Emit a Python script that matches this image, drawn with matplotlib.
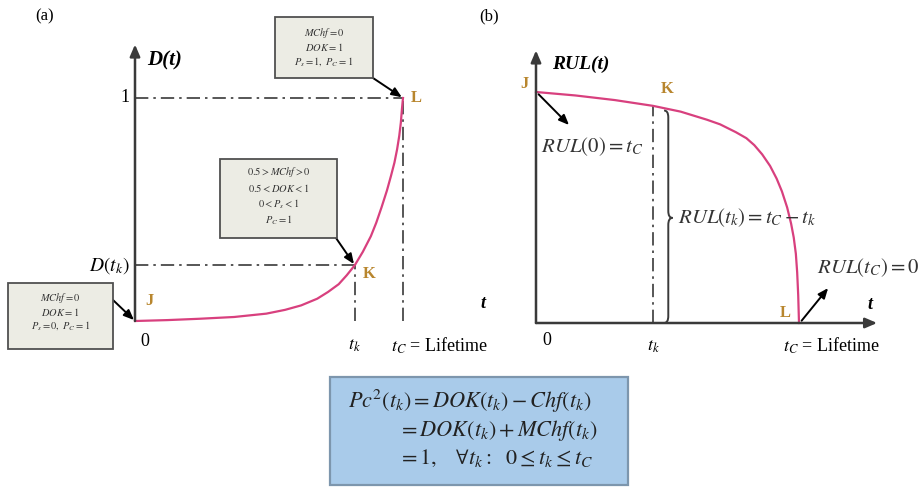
import numpy as np
import matplotlib
matplotlib.use('Agg')
import matplotlib.pyplot as plt
from matplotlib.patches import Rectangle, PathPatch
from matplotlib.path import Path

plt.rcParams['mathtext.fontset'] = 'stix'
plt.rcParams['font.family'] = ['Liberation Serif', 'DejaVu Serif']

# (a) degradation D(t), time normalised so that t_C = 1
d_t = [0, 0.12, 0.24, 0.37, 0.49, 0.56, 0.62, 0.68, 0.72, 0.76, 0.79, 0.82, 0.85, 0.88,
       0.90, 0.92, 0.94, 0.955, 0.968, 0.978, 0.986, 0.992, 0.996, 1.0]
d_val = [0, 0.004, 0.01, 0.018, 0.033, 0.05, 0.07, 0.10, 0.13, 0.165, 0.205, 0.25, 0.31, 0.38,
         0.44, 0.51, 0.585, 0.65, 0.71, 0.77, 0.83, 0.89, 0.95, 1.0]
tk_a = 0.82
d_tk = 0.25

# (b) remaining useful life RUL(t), normalised
rul_t = [0, 0.15, 0.30, 0.445, 0.55, 0.65, 0.70, 0.76, 0.80, 0.83, 0.86, 0.89, 0.915, 0.935,
         0.955, 0.97, 0.98, 0.988, 0.993, 0.997, 1.0]
rul_val = [1.0, 0.985, 0.965, 0.94, 0.915, 0.88, 0.86, 0.826, 0.80, 0.77, 0.73, 0.68, 0.625,
           0.57, 0.50, 0.43, 0.37, 0.30, 0.22, 0.12, 0.0]
tk_b = 0.445
rul_tk = 0.94

box_j = [r'$MChf = 0$', r'$DOK = 1$', r'$P_s = 0,\ P_C = 1$']
box_k = [r'$0.5 > MChf > 0$', r'$0.5 < DOK < 1$', r'$0 < P_s < 1$', r'$P_C = 1$']
box_l = [r'$MChf = 0$', r'$DOK = 1$', r'$P_s = 1,\ P_C = 1$']

W, H = 921, 494
curve_c = '#d8407e'
point_c = '#b8862e'
axis_c = '#3a3a3a'
dashdot = (0, (8, 3, 1.5, 3))

fig = plt.figure(figsize=(W / 100, H / 100), dpi=100)


def fx(x, y):
    # pixel position -> figure fraction
    return (x / W, 1 - y / H)


# axes placed so that the origins sit where the drawing needs them
ax_a = fig.add_axes([0, 124 / H, 460 / W, 370 / H])
ax_a.set_xlim(-135 / 268, 325 / 268)
ax_a.set_ylim(-49 / 223, 321 / 223)
ax_b = fig.add_axes([460 / W, 124 / H, 461 / W, 370 / H])
ax_b.set_xlim(-76 / 263, 385 / 263)
ax_b.set_ylim(-47 / 231, 323 / 231)
for ax in (ax_a, ax_b):
    ax.axis('off')

arrow_axis = dict(arrowstyle='-|>,head_length=0.7,head_width=0.3', color=axis_c, lw=1.8,
                  shrinkA=0, shrinkB=0)

# ---- panel (a) ----
ax_a.annotate('', xy=(0, 1.24), xytext=(0, 0), arrowprops=arrow_axis)
ax_a.annotate('', xy=(1.325, 0), xytext=(0, 0), arrowprops=arrow_axis)
ax_a.plot([0, 1], [1, 1], color=axis_c, lw=1.2, ls=dashdot)
ax_a.plot([1, 1], [0, 1], color=axis_c, lw=1.2, ls=dashdot)
ax_a.plot([0, tk_a], [d_tk, d_tk], color=axis_c, lw=1.2, ls=dashdot)
ax_a.plot([tk_a, tk_a], [0, d_tk], color=axis_c, lw=1.2, ls=dashdot)
ax_a.plot(d_t, d_val, color=curve_c, lw=1.6, solid_joinstyle='round')

ax_a.text(0.04, 0.07, 'J', color=point_c, fontsize=12, fontweight='bold')
ax_a.text(tk_a + 0.03, d_tk - 0.04, 'K', color=point_c, fontsize=12, fontweight='bold', va='center')
ax_a.text(1.03, 1.0, 'L', color=point_c, fontsize=12, fontweight='bold', va='center')

ax_a.text(-0.02, 1, '1', fontsize=13, ha='right', va='center')
ax_a.text(-0.02, d_tk, r'$D(t_k)$', fontsize=14, ha='right', va='center')
ax_a.text(0.02, -0.09, '0', fontsize=13, ha='left', va='center')
ax_a.text(tk_a, -0.11, r'$t_k$', fontsize=13, ha='center', va='center')
ax_a.text(0.955, -0.11, r'$t_C$ = Lifetime', fontsize=13, ha='left', va='center')
ax_a.text(1.30, 0.08, 't', fontsize=13, style='italic', fontweight='bold', ha='center', va='center')
ax_a.text(0.045, 1.17, 'D(t)', fontsize=15, style='italic', fontweight='bold', ha='left', va='center')

fig.text(*fx(45, 16), '(a)', fontsize=12, ha='center', va='center')

box_fill = '#ecece4'
box_edge = '#505050'
arrow_box = dict(arrowstyle='-|>,head_length=0.6,head_width=0.25', color='black', lw=1.4,
                 shrinkA=0, shrinkB=1)


def note_box(x0, y0, x1, y1, lines, line_y, target, start, ax):
    fig.patches.append(Rectangle(fx(x0, y1), (x1 - x0) / W, (y1 - y0) / H,
                                 transform=fig.transFigure, facecolor=box_fill,
                                 edgecolor=box_edge, lw=1.3))
    for s, y in zip(lines, line_y):
        fig.text(*fx((x0 + x1) / 2, y), s, fontsize=7.5, ha='center', va='center', color='#333333')
    ax.annotate('', xy=target, xycoords='data', xytext=fx(*start),
                textcoords='figure fraction', arrowprops=arrow_box)


note_box(275, 17, 373, 78, box_l, [33, 47, 61], (d_t[-1], d_val[-1]), (373, 78), ax_a)
note_box(220, 159, 337, 238, box_k, [172, 188, 204, 220], (tk_a, d_tk), (336, 238), ax_a)
note_box(8, 283, 113, 349, box_j, [298, 312, 326], (d_t[0], d_val[0]), (113, 300), ax_a)

# ---- panel (b) ----
ax_b.annotate('', xy=(0, 1.18), xytext=(0, 0), arrowprops=arrow_axis)
ax_b.annotate('', xy=(1.297, 0), xytext=(0, 0), arrowprops=arrow_axis)
ax_b.plot([tk_b, tk_b], [0, rul_tk], color=axis_c, lw=1.2, ls=dashdot)
ax_b.plot(rul_t, rul_val, color=curve_c, lw=1.6, solid_joinstyle='round')

ax_b.text(-0.03, 1.0, 'J', color=point_c, fontsize=12, fontweight='bold', ha='right', va='bottom')
ax_b.text(tk_b + 0.03, rul_tk + 0.04, 'K', color=point_c, fontsize=12, fontweight='bold', va='bottom')
ax_b.text(0.97, 0.01, 'L', color=point_c, fontsize=12, fontweight='bold', ha='right', va='bottom')

ax_b.text(0.025, -0.075, '0', fontsize=13, ha='left', va='center')
ax_b.text(tk_b, -0.10, r'$t_k$', fontsize=13, ha='center', va='center')
ax_b.text(0.94, -0.10, r'$t_C$ = Lifetime', fontsize=13, ha='left', va='center')
ax_b.text(1.27, 0.08, 't', fontsize=13, style='italic', fontweight='bold', ha='center', va='center')
ax_b.text(0.06, 1.12, 'RUL(t)', fontsize=14, style='italic', fontweight='bold', ha='left', va='center')

fig.text(*fx(489, 16), '(b)', fontsize=12, ha='center', va='center')

# curly brace spanning RUL(t_k)
bx, bw, bd = 0.487, 0.016, 0.03
b_top, b_mid = rul_tk - 0.02, 0.455
brace = Path([(bx, b_top), (bx + bw, b_top), (bx + bw, b_top - bd),
              (bx + bw, b_mid + bd), (bx + bw, b_mid), (bx + 2 * bw, b_mid),
              (bx + bw, b_mid), (bx + bw, b_mid - bd),
              (bx + bw, bd), (bx + bw, 0), (bx, 0)],
             [Path.MOVETO, Path.CURVE3, Path.CURVE3,
              Path.LINETO, Path.CURVE3, Path.CURVE3,
              Path.CURVE3, Path.CURVE3,
              Path.LINETO, Path.CURVE3, Path.CURVE3])
ax_b.add_patch(PathPatch(brace, facecolor='none', edgecolor=axis_c, lw=1.4))

ax_b.text(0.54, b_mid, r'$RUL(t_k) = t_C - t_k$', fontsize=15, ha='left', va='center', color='#333333')
ax_b.text(0.02, 0.765, r'$RUL(0) = t_C$', fontsize=15, ha='left', va='center', color='#333333')
ax_b.text(1.07, 0.24, r'$RUL(t_C) = 0$', fontsize=15, ha='left', va='center', color='#333333')

ax_b.annotate('', xy=fx(570, 126), xycoords='figure fraction', xytext=(rul_t[0] + 0.01, rul_val[0] - 0.01),
              textcoords='data', arrowprops=arrow_box)
ax_b.annotate('', xy=fx(829, 287), xycoords='figure fraction', xytext=(rul_t[-1] + 0.01, rul_val[-1] + 0.01),
              textcoords='data', arrowprops=arrow_box)

# ---- relation box ----
fig.patches.append(Rectangle(fx(330, 485), 298 / W, 108 / H, transform=fig.transFigure,
                             facecolor='#a9cbea', edgecolor='#7d96ad', lw=1.6))
fig.text(*fx(348, 401), r'$Pc^2(t_k) = DOK(t_k) - Chf(t_k)$', fontsize=16, ha='left', va='center',
         color='#222222')
fig.text(*fx(398, 430), r'$= DOK(t_k) + MChf(t_k)$', fontsize=16, ha='left', va='center', color='#222222')
fig.text(*fx(398, 458), r'$= 1,\quad \forall t_k:\ \ 0 \leq t_k \leq t_C$', fontsize=16, ha='left',
         va='center', color='#222222')

fig.savefig('out.png', dpi=100)
